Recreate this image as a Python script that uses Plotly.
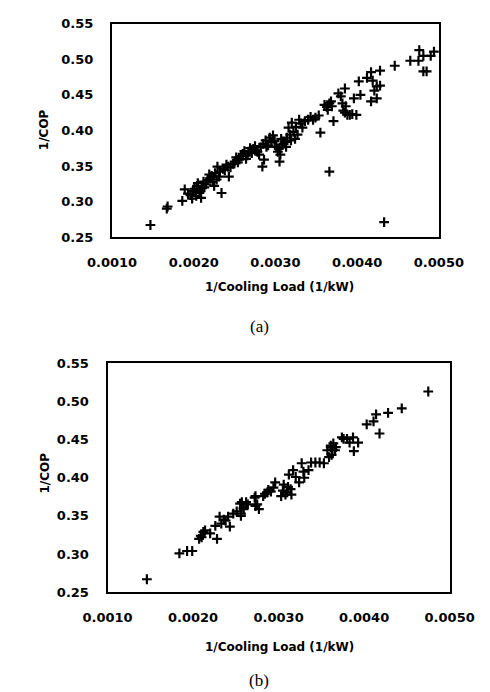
import plotly.graph_objects as go

W, H = 490, 692

# ---- Data (a) ----
a_x = [0.00147, 0.00168, 0.00167, 0.00186, 0.00189, 0.00193, 0.00198, 0.00199, 0.00203, 0.00204,
       0.00207, 0.00209, 0.00210, 0.00212, 0.00215, 0.00220, 0.00223, 0.00225, 0.00229, 0.00231,
       0.00232, 0.00234, 0.00236, 0.00242, 0.00243, 0.00248, 0.00256, 0.00260, 0.00264, 0.00267,
       0.00273, 0.00278, 0.00284, 0.00286, 0.00289, 0.00295, 0.00297, 0.00303, 0.00305, 0.00307,
       0.00310, 0.00314, 0.00316, 0.00320, 0.00324, 0.00327, 0.00329, 0.00333, 0.00340, 0.00346,
       0.00353, 0.00355, 0.00360, 0.00364, 0.00366, 0.00368, 0.00371, 0.00377, 0.00380, 0.00385,
       0.00382, 0.00386, 0.00385, 0.00388, 0.00391, 0.00396, 0.00399, 0.00402, 0.00404, 0.00412,
       0.00417, 0.00419, 0.00421, 0.00417, 0.00424, 0.00428, 0.00424, 0.00428, 0.00446, 0.00465,
       0.00475, 0.00476, 0.00481, 0.00485, 0.00481, 0.00490, 0.00494, 0.00433,
       0.00196, 0.00201, 0.00205, 0.00208, 0.00213, 0.00217, 0.00219, 0.00222, 0.00226, 0.00228,
       0.00238, 0.00240, 0.00245, 0.00250, 0.00252, 0.00254, 0.00258, 0.00262, 0.00266, 0.00269,
       0.00271, 0.00275, 0.00277, 0.00280, 0.00282, 0.00285, 0.00288, 0.00291, 0.00293, 0.00299,
       0.00301, 0.00304, 0.00306, 0.00308, 0.00312, 0.00313, 0.00318, 0.00319, 0.00322, 0.00325,
       0.00331, 0.00336, 0.00343, 0.00349, 0.00363, 0.00366, 0.00369, 0.00383, 0.00394]
a_y = [0.267, 0.293, 0.290, 0.301, 0.317, 0.311, 0.304, 0.315, 0.308, 0.322,
       0.312, 0.305, 0.319, 0.328, 0.324, 0.333, 0.328, 0.322, 0.349, 0.335,
       0.342, 0.312, 0.346, 0.349, 0.335, 0.353, 0.359, 0.367, 0.360, 0.370,
       0.374, 0.370, 0.349, 0.359, 0.377, 0.383, 0.393, 0.370, 0.356, 0.388,
       0.381, 0.390, 0.404, 0.411, 0.388, 0.394, 0.415, 0.404, 0.415, 0.415,
       0.421, 0.397, 0.436, 0.429, 0.342, 0.441, 0.413, 0.452, 0.448, 0.459,
       0.438, 0.434, 0.425, 0.422, 0.422, 0.445, 0.422, 0.469, 0.450, 0.474,
       0.482, 0.470, 0.456, 0.441, 0.462, 0.463, 0.445, 0.484, 0.491, 0.498,
       0.498, 0.513, 0.483, 0.483, 0.505, 0.505, 0.511, 0.271,
       0.309, 0.318, 0.326, 0.315, 0.320, 0.330, 0.338, 0.336, 0.340, 0.331,
       0.344, 0.352, 0.348, 0.356, 0.362, 0.355, 0.364, 0.371, 0.365, 0.375,
       0.368, 0.378, 0.372, 0.366, 0.376, 0.381, 0.386, 0.379, 0.390, 0.385,
       0.377, 0.374, 0.366, 0.380, 0.384, 0.377, 0.394, 0.386, 0.398, 0.405,
       0.410, 0.413, 0.419, 0.418, 0.433, 0.438, 0.434, 0.428, 0.423]

# ---- Data (b) ----
b_x = [0.00146, 0.00184, 0.00193, 0.00199, 0.00207, 0.00209, 0.00212, 0.00214, 0.00220, 0.00228,
       0.00226, 0.00231, 0.00233, 0.00238, 0.00243, 0.00241, 0.00247, 0.00251, 0.00256, 0.00257,
       0.00259, 0.00262, 0.00272, 0.00273, 0.00255, 0.00259, 0.00256, 0.00264, 0.00273, 0.00275,
       0.00277, 0.00282, 0.00287, 0.00291, 0.00294, 0.00296, 0.00303, 0.00306, 0.00310, 0.00314,
       0.00315, 0.00312, 0.00317, 0.00320, 0.00324, 0.00327, 0.00329, 0.00330, 0.00335, 0.00338,
       0.00343, 0.00348, 0.00353, 0.00357, 0.00359, 0.00361, 0.00362, 0.00367, 0.00376, 0.00361,
       0.00366, 0.00374, 0.00380, 0.00383, 0.00387, 0.00393, 0.00388, 0.00403, 0.00411, 0.00414,
       0.00418, 0.00428, 0.00444, 0.00475,
       0.00288, 0.00284, 0.00308, 0.00305, 0.00311, 0.00236, 0.00210, 0.00363, 0.00364]
b_y = [0.267, 0.301, 0.304, 0.304, 0.320, 0.324, 0.329, 0.331, 0.327, 0.320,
       0.337, 0.349, 0.340, 0.344, 0.336, 0.349, 0.353, 0.356, 0.350, 0.368,
       0.361, 0.368, 0.374, 0.363, 0.366, 0.359, 0.353, 0.365, 0.376, 0.365,
       0.359, 0.376, 0.381, 0.382, 0.387, 0.394, 0.376, 0.391, 0.381, 0.385,
       0.378, 0.404, 0.410, 0.401, 0.394, 0.419, 0.408, 0.400, 0.410, 0.420,
       0.420, 0.420, 0.419, 0.436, 0.427, 0.440, 0.430, 0.440, 0.451, 0.442,
       0.436, 0.453, 0.451, 0.446, 0.453, 0.446, 0.435, 0.470, 0.474, 0.483,
       0.458, 0.485, 0.491, 0.513,
       0.384, 0.379, 0.378, 0.383, 0.388, 0.345, 0.322, 0.437, 0.445]

x_ticks = [0.001, 0.002, 0.003, 0.004, 0.005]
x_labels = ["0.0010", "0.0020", "0.0030", "0.0040", "0.0050"]
y_ticks = [0.25, 0.30, 0.35, 0.40, 0.45, 0.50, 0.55]
y_labels = ["0.25", "0.30", "0.35", "0.40", "0.45", "0.50", "0.55"]

x_title = "1/Cooling Load (1/kW)"
y_title = "1/COP"
panel_labels = ["(a)", "(b)"]

FONT = "DejaVu Sans"
marker = dict(symbol="cross-thin", size=7, color="black", line=dict(width=2.2, color="black"))

fig = go.Figure()
fig.add_trace(go.Scatter(x=a_x, y=a_y, mode="markers", marker=marker, xaxis="x", yaxis="y", showlegend=False))
fig.add_trace(go.Scatter(x=b_x, y=b_y, mode="markers", marker=marker, xaxis="x2", yaxis="y2", showlegend=False))

def px_x(p):
    return p / W

def px_y(p):
    return 1 - p / H

axis_common = dict(showline=True, linecolor="black", linewidth=2, mirror=True, showgrid=False,
                   zeroline=False, ticks="outside", ticklen=0,
                   tickfont=dict(family=FONT, size=13, color="black", weight="bold"))

fig.update_layout(
    width=W, height=H,
    margin=dict(l=0, r=0, t=0, b=0),
    paper_bgcolor="white", plot_bgcolor="white",
    xaxis=dict(domain=[px_x(88), px_x(452)], range=[0.001, 0.005], anchor="y",
               tickvals=x_ticks, ticktext=x_labels, ticklabelstandoff=12, **axis_common),
    yaxis=dict(domain=[px_y(227), px_y(9)], range=[0.25, 0.55], anchor="x",
               tickvals=y_ticks, ticktext=y_labels, ticklabelstandoff=14, **axis_common),
    xaxis2=dict(domain=[px_x(83), px_x(464)], range=[0.001, 0.005], anchor="y2",
                tickvals=x_ticks, ticktext=x_labels, ticklabelstandoff=12, **axis_common),
    yaxis2=dict(domain=[px_y(590), px_y(356)], range=[0.25, 0.55], anchor="x2",
                tickvals=y_ticks, ticktext=y_labels, ticklabelstandoff=14, **axis_common),
)

ann = []
title_font = dict(family=FONT, size=12, color="black", weight="bold")
for (tx, ty, t) in [(275, 278, x_title), (274, 646, x_title)]:
    ann.append(dict(x=px_x(tx), y=px_y(ty), xref="paper", yref="paper", text=t,
                    showarrow=False, font=title_font, xanchor="center", yanchor="middle"))
for (tx, ty) in [(13, 117), (13, 468)]:
    ann.append(dict(x=px_x(tx), y=px_y(ty), xref="paper", yref="paper", text=y_title,
                    showarrow=False, font=title_font, textangle=-90, xanchor="center", yanchor="middle"))
for (tx, ty, t) in [(252, 318, panel_labels[0]), (252, 680, panel_labels[1])]:
    ann.append(dict(x=px_x(tx), y=px_y(ty), xref="paper", yref="paper", text=t,
                    showarrow=False, font=dict(family="Liberation Serif", size=17, color="black"),
                    xanchor="center", yanchor="middle"))
fig.update_layout(annotations=ann)

fig.write_html("out.html")
